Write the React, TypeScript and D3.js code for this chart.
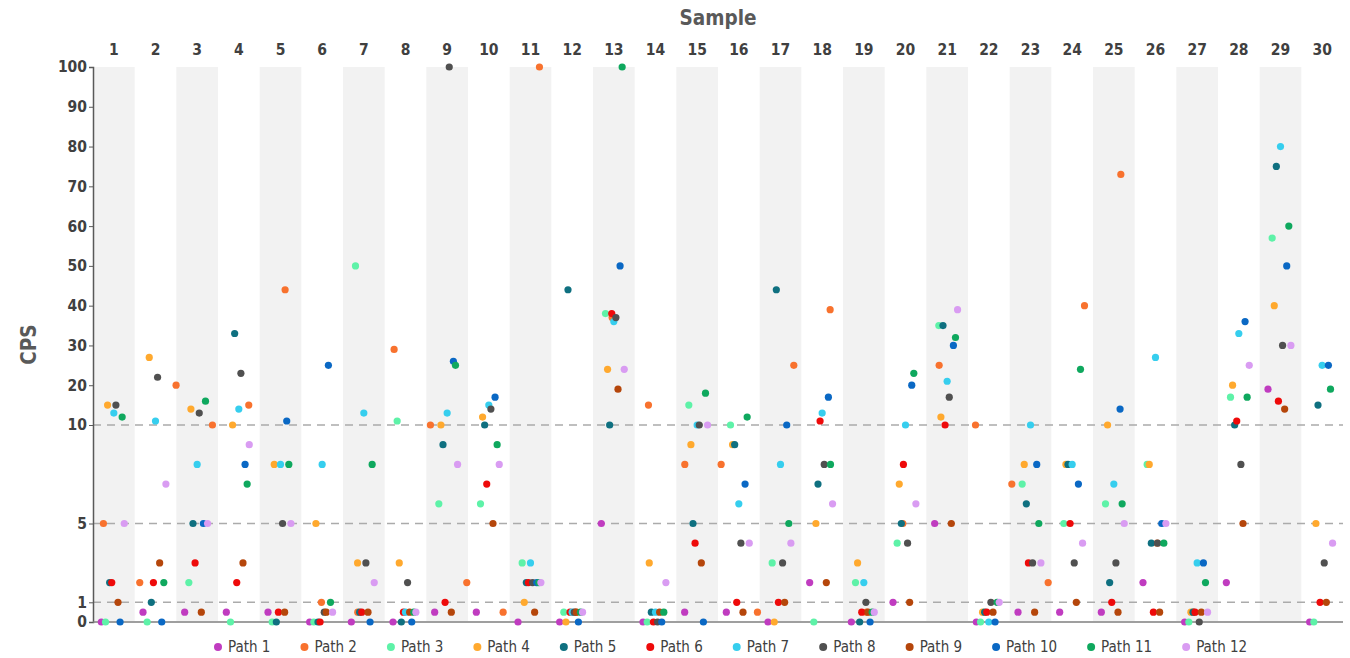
import React, { useRef, useEffect } from "react";
import * as d3 from "d3";

// ── Data ─────────────────────────────────────────────────────────────────────

const SAMPLES = [1, 2, 3, 4, 5, 6, 7, 8, 9, 10, 11, 12, 13, 14, 15, 16, 17, 18, 19, 20, 21, 22, 23, 24, 25, 26, 27, 28, 29, 30];

const PATHS = ["Path 1", "Path 2", "Path 3", "Path 4", "Path 5", "Path 6", "Path 7", "Path 8", "Path 9", "Path 10", "Path 11", "Path 12"];

const COLORS = ["#C03CC0", "#F8722E", "#5EF2A8", "#FFA92E", "#0F7080", "#EE0A0A", "#36CEEE", "#505050", "#B5460B", "#0A68C4", "#0FA85E", "#D99CF2"];

const Y_TICKS = [0, 1, 5, 10, 20, 30, 40, 50, 60, 70, 80, 90, 100];
const Y_GRID = [1, 5, 10];

// one value per sample
const PATH_1 = [0, 0.5, 0.5, 0.5, 0.5, 0, 0, 0, 0.5, 0.5, 0, 0, 5, 0, 0.5, 0.5, 0, 2, 0, 1, 5, 0, 0.5, 0.5, 0.5, 2, 0, 2, 19, 0];
const PATH_3 = [0, 0, 2, 0, 0, 0, 50, 11, 6, 6, 3, 0.5, 38, 0, 15, 10, 3, 0, 2, 4, 35, 0, 7, 5, 6, 8, 0, 17, 57, 0];
const PATH_4 = [15, 27, 14, 10, 8, 5, 3, 3, 10, 12, 1, 0, 24, 3, 9, 9, 0, 5, 3, 7, 12, 0.5, 8, 8, 10, 8, 0.5, 20, 40, 5];
const PATH_5 = [2, 1, 5, 33, 0, 0, 0.5, 0, 9, 10, 2, 44, 10, 0.5, 5, 9, 44, 7, 0, 5, 35, 0.5, 6, 8, 2, 4, 0.5, 10, 75, 15];
const PATH_6 = [2, 2, 3, 2, 0.5, 0, 0.5, 0.5, 1, 7, 2, 0.5, 38, 0, 4, 1, 1, 11, 0.5, 8, 10, 0.5, 3, 5, 1, 0.5, 0.5, 11, 16, 1];
const PATH_7 = [13, 11, 8, 14, 8, 8, 13, 0.5, 13, 15, 3, 0.5, 36, 0.5, 10, 6, 8, 13, 2, 10, 21, 0, 10, 8, 7, 27, 3, 33, 80, 25];
const PATH_8 = [15, 22, 13, 23, 5, 0.5, 3, 2, 100, 14, 2, 0.5, 37, 0, 10, 4, 3, 8, 1, 4, 17, 1, 3, 3, 3, 4, 0, 8, 30, 3];
const PATH_9 = [1, 3, 0.5, 3, 0.5, 0.5, 0.5, 0.5, 0.5, 5, 0.5, 0.5, 19, 0.5, 3, 0.5, 1, 2, 0.5, 1, 5, 0.5, 0.5, 1, 0.5, 0.5, 0.5, 5, 14, 1];
const PATH_10 = [0, 0, 5, 8, 11, 25, 0, 0, 26, 17, 2, 0, 50, 0, 0, 7, 10, 17, 0, 20, 30, 0, 8, 7, 14, 5, 3, 36, 50, 25];
const PATH_11 = [12, 2, 16, 7, 8, 1, 8, 0.5, 25, 9, 2, 0.5, 100, 0.5, 18, 12, 5, 8, 0.5, 23, 32, 1, 5, 24, 6, 4, 2, 17, 60, 19];
const PATH_12 = [5, 7, 5, 9, 5, 0.5, 2, 0.5, 8, 8, 2, 0.5, 24, 2, 10, 4, 4, 6, 0.5, 6, 39, 1, 3, 4, 5, 5, 0.5, 25, 30, 4];

// Path 2 was logged on its own, tighter spacing than the samples
const PATH_2 = [5, 2, 20, 10, 15, 44, 1, 0.5, 29, 10, 2, 0.5, 100, 0.5, 37, 15, 8, 8, 0.5, 25, 39, 0.5, 5, 25, 10, 7, 2, 40, 73, 4, 0.5];

const SERIES = [PATH_1, PATH_2, PATH_3, PATH_4, PATH_5, PATH_6, PATH_7, PATH_8, PATH_9, PATH_10, PATH_11, PATH_12];

// ── Chart ────────────────────────────────────────────────────────────────────

const WIDTH = 1350;
const HEIGHT = 658;
const FONT = '"DejaVu Sans Condensed", "DejaVu Sans", sans-serif';

export default function App() {
  const svgRef = useRef<SVGSVGElement>(null);

  useEffect(() => {
    if (!svgRef.current) return;
    const svg = d3.select(svgRef.current);
    svg.selectAll("*").remove();

    const x = d3.scaleBand<number>().domain(SAMPLES).range([93, 1343]);
    const y = d3.scaleLinear().domain([0, 10, 100]).range([622, 425, 67]);
    const slot = d3.scalePoint<string>().domain(PATHS).range([-12.5, 10.4]);
    const center = (s: number) => (x(s) as number) + x.bandwidth() / 2;
    // Path 2 index -> pixel
    const x2 = d3
      .scaleLinear()
      .domain([0, 28])
      .range([center(1) + (slot("Path 2") as number), center(25) + 7]);

    const [x0, x1] = x.range();

    // shaded bands on odd samples
    svg
      .append("g")
      .selectAll("rect")
      .data(SAMPLES.filter((s) => s % 2 === 1))
      .join("rect")
      .attr("x", (d) => x(d) as number)
      .attr("y", y(100))
      .attr("width", x.bandwidth())
      .attr("height", y(0) - y(100) - 1)
      .attr("fill", "#f2f2f2");

    // dashed grid
    svg
      .append("g")
      .selectAll("line")
      .data(Y_GRID)
      .join("line")
      .attr("x1", x0)
      .attr("x2", x1)
      .attr("y1", (d) => y(d))
      .attr("y2", (d) => y(d))
      .attr("stroke", "#ababab")
      .attr("stroke-width", 1.5)
      .attr("stroke-dasharray", "8,6");

    // y axis
    svg
      .append("g")
      .attr("transform", `translate(${x0},0)`)
      .call(d3.axisLeft(y).tickValues(Y_TICKS).tickSize(4).tickPadding(2).tickFormat(d3.format("d")))
      .call((g) => {
        g.select(".domain").attr("stroke", "#595959").attr("stroke-width", 1.5);
        g.selectAll(".tick line").attr("stroke", "#595959");
        g.selectAll(".tick text")
          .attr("fill", "#404040")
          .attr("font-size", 15.5)
          .attr("font-weight", "bold")
          .attr("font-family", FONT);
      });

    // bottom base line
    svg
      .append("line")
      .attr("x1", x0)
      .attr("x2", x1)
      .attr("y1", y(0))
      .attr("y2", y(0))
      .attr("stroke", "#7f7f7f")
      .attr("stroke-width", 1.5);

    // sample labels on top
    svg
      .append("g")
      .attr("transform", `translate(0,${y(100)})`)
      .call(d3.axisTop(x).tickSize(0).tickPadding(12))
      .call((g) => {
        g.select(".domain").remove();
        g.selectAll(".tick text")
          .attr("fill", "#404040")
          .attr("font-size", 15.5)
          .attr("font-weight", "bold")
          .attr("font-family", FONT);
      });

    // titles
    svg
      .append("text")
      .attr("x", (x0 + x1) / 2)
      .attr("y", 25)
      .attr("text-anchor", "middle")
      .attr("font-size", 20.5)
      .attr("font-weight", "bold")
      .attr("font-family", FONT)
      .attr("fill", "#595959")
      .text("Sample");

    svg
      .append("text")
      .attr("transform", `translate(36,${(y(0) + y(100)) / 2}) rotate(-90)`)
      .attr("text-anchor", "middle")
      .attr("font-size", 20.5)
      .attr("font-weight", "bold")
      .attr("font-family", FONT)
      .attr("fill", "#595959")
      .text("CPS");

    // points
    const dots = svg.append("g");
    SERIES.forEach((values, i) => {
      const name = PATHS[i];
      const own = name === "Path 2";
      dots
        .append("g")
        .selectAll("circle")
        .data(values)
        .join("circle")
        .attr("cx", (d, j) => (own ? x2(j) : center(SAMPLES[j]) + (slot(name) as number)))
        .attr("cy", (d) => y(d))
        .attr("r", 3.6)
        .attr("fill", COLORS[i]);
    });

    // legend
    const legend = svg.append("g").attr("transform", `translate(0,647)`);
    let cursor = 218;
    PATHS.forEach((name, i) => {
      const item = legend.append("g").attr("transform", `translate(${cursor},0)`);
      item.append("circle").attr("r", 4).attr("fill", COLORS[i]);
      const t = item
        .append("text")
        .attr("x", 10)
        .attr("dy", "0.35em")
        .attr("font-size", 15)
        .attr("font-family", FONT)
        .attr("fill", "#404040")
        .text(name);
      const w = (t.node() as SVGTextElement).getComputedTextLength();
      cursor += 10 + w + 34;
    });
  }, []);

  return (
    <svg
      ref={svgRef}
      width={WIDTH}
      height={HEIGHT}
      style={{ position: "absolute", left: 0, top: 0, background: "#fff" }}
    />
  );
}
